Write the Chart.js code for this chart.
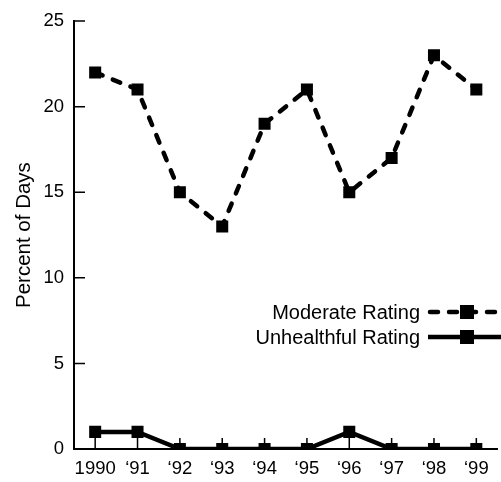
<!DOCTYPE html>
<html>
<head>
<meta charset="utf-8">
<script src="https://cdn.jsdelivr.net/npm/chart.js@4.4.0/dist/chart.umd.min.js"></script>
<style>
  html, body { margin: 0; padding: 0; background: #fff; overflow: hidden; }
  #wrap { width: 506px; height: 482px; }
</style>
</head>
<body>
<div id="wrap"><canvas id="airChart" width="506" height="482"></canvas></div>
<script>
// Percent of days with moderate / unhealthful air quality ratings, 1990-1999
const years       = ['1990', '\u201891', '\u201892', '\u201893', '\u201894', '\u201895', '\u201896', '\u201897', '\u201898', '\u201899'];
const moderate    = [22, 21, 15, 13, 19, 21, 15, 17, 23, 21];
const unhealthful = [1, 1, 0, 0, 0, 0, 1, 0, 0, 0];
const yTicks      = [0, 5, 10, 15, 20, 25];

const FONT = "'Liberation Sans', Arial, Helvetica, sans-serif";

// inward tick marks on both axes (drawn under the lines)
const inwardTicks = {
  id: 'inwardTicks',
  beforeDatasetsDraw(chart) {
    const ctx = chart.ctx, x = chart.scales.x, y = chart.scales.y;
    const area = chart.chartArea;
    ctx.save();
    ctx.strokeStyle = '#000';
    ctx.lineWidth = 1.5;
    ctx.beginPath();
    x.ticks.forEach((t, i) => {
      const px = x.getPixelForTick(i);
      ctx.moveTo(px, area.bottom);
      ctx.lineTo(px, area.bottom - 11);
    });
    y.ticks.forEach((t, i) => {
      const py = y.getPixelForTick(i);
      ctx.moveTo(area.left, py);
      ctx.lineTo(area.left + 11, py);
    });
    ctx.stroke();
    ctx.restore();
  }
};

// legend sitting inside the plot, text right-aligned, sample running off the edge
const insideLegend = {
  id: 'insideLegend',
  afterDraw(chart) {
    const ctx = chart.ctx;
    const rows = [312, 337];
    ctx.save();
    ctx.font = '20px ' + FONT;
    ctx.fillStyle = '#000';
    ctx.textAlign = 'right';
    ctx.textBaseline = 'middle';
    chart.data.datasets.forEach((ds, i) => {
      const yy = rows[i];
      ctx.fillText(ds.label, 420, yy + 1);
      ctx.strokeStyle = '#000';
      ctx.lineWidth = 4.5;
      ctx.lineCap = ds.borderDash.length ? 'round' : 'butt';
      ctx.setLineDash(ds.borderDash);
      ctx.lineDashOffset = ds.borderDash.length ? -2 : 0;
      ctx.beginPath();
      ctx.moveTo(428, yy);
      ctx.lineTo(510, yy);
      ctx.stroke();
      ctx.setLineDash([]);
      ctx.fillRect(460, yy - 7, 14, 14);
    });
    ctx.restore();
  }
};

new Chart(document.getElementById('airChart').getContext('2d'), {
  type: 'line',
  data: {
    labels: years,
    datasets: [
      { label: 'Moderate Rating', data: moderate, borderColor: '#000', backgroundColor: '#000',
        borderWidth: 4.5, borderDash: [8, 11], borderCapStyle: 'round', fill: false, tension: 0,
        pointStyle: 'rect', pointRadius: 8.5, pointBorderWidth: 0 },
      { label: 'Unhealthful Rating', data: unhealthful, borderColor: '#000', backgroundColor: '#000',
        borderWidth: 4.5, borderDash: [], fill: false, tension: 0,
        pointStyle: 'rect', pointRadius: 8.5, pointBorderWidth: 0 }
    ]
  },
  options: {
    responsive: false,
    animation: false,
    layout: { padding: { top: 19, right: 0, bottom: 0, left: 0 } },
    plugins: { legend: { display: false }, tooltip: { enabled: false } },
    scales: {
      x: {
        offset: true,
        grid: { display: false, drawTicks: false },
        border: { display: true, color: '#000', width: 2 },
        ticks: { color: '#000', font: { family: FONT, size: 18.5 }, padding: 9, maxRotation: 0, autoSkip: false },
        afterFit: s => { s.height = 33; }
      },
      y: {
        min: 0, max: 25,
        afterBuildTicks: s => { s.ticks = yTicks.map(v => ({ value: v })); },
        grid: { display: false, drawTicks: false },
        border: { display: true, color: '#000', width: 2 },
        ticks: { color: '#000', font: { family: FONT, size: 18.5 }, padding: 10 },
        title: { display: true, text: 'Percent of Days', color: '#000',
                 font: { family: FONT, size: 20.5 }, padding: { top: 12, bottom: 0 } },
        afterFit: s => { s.width = 74; }
      }
    }
  },
  plugins: [inwardTicks, insideLegend]
});
</script>
</body>
</html>
